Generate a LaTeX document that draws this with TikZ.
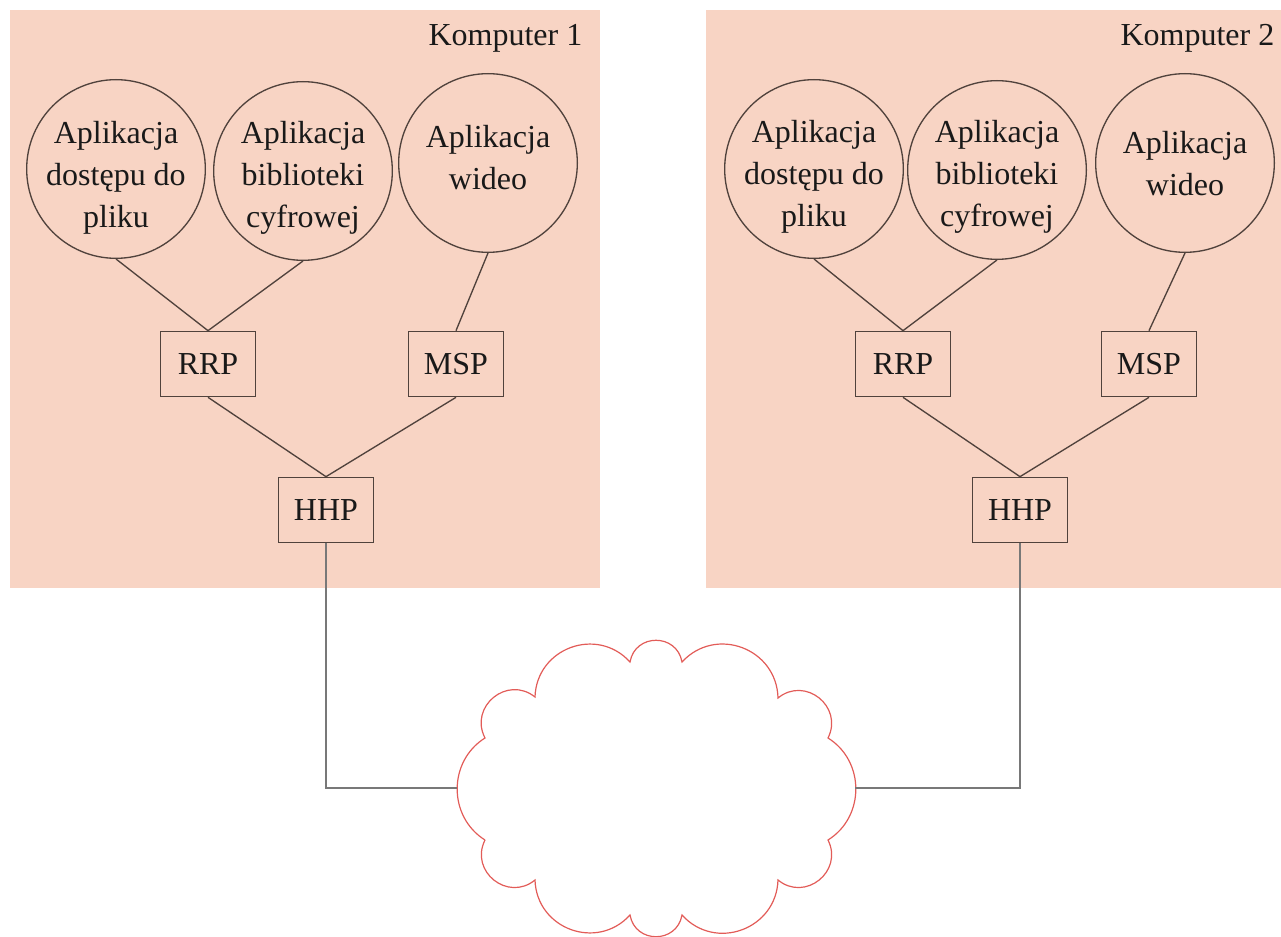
\documentclass[tikz,border=0pt]{standalone}
\usepackage{fontspec}
\setmainfont{Liberation Serif}
\definecolor{panel}{RGB}{248,212,196}
\definecolor{ink}{RGB}{80,66,60}
\definecolor{wire}{RGB}{120,120,120}
\definecolor{cloudred}{RGB}{226,92,88}
\begin{document}
\begin{tikzpicture}[x=0.75pt,y=-0.75pt,
  every node/.style={font=\fontsize{24}{31.5}\selectfont, text=black!90},
  app/.style={draw=ink, line width=1pt, circle, minimum size=134pt, inner sep=0pt},
  apptext/.style={align=center, inner sep=0pt},
  proto/.style={draw=ink, line width=1pt, rectangle, minimum width=71pt, minimum height=49pt, inner sep=0pt},
  link/.style={draw=ink, line width=1pt},
  netlink/.style={draw=wire, line width=1pt},
  cloudline/.style={draw=cloudred, line width=0.9pt}
]
\useasboundingbox (0,0) rectangle (1281,937);
\fill[panel] (10,10) rectangle (600,588);
\fill[panel] (706,10) rectangle (1290,588);

% Komputer 1
\node[anchor=base east] (k1) at (587,46) {Komputer 1};
\node[app] (a1) at (116,169) {};
\node[app] (b1) at (303,171) {};
\node[app] (c1) at (488,163) {};
\node[apptext] (a1t) at (116,178) {Aplikacja\\dostępu do\\pliku};
\node[apptext] (b1t) at (303,178) {Aplikacja\\biblioteki\\cyfrowej};
\node[apptext] (c1t) at (488,158) {Aplikacja\\wideo};
\node[proto] (r1) at (208,364) {RRP};
\node[proto] (m1) at (456,364) {MSP};
\node[proto] (h1) at (326,510) {HHP};

% Komputer 2
\node[anchor=base east] (k2) at (1279,46) {Komputer 2};
\node[app] (a2) at (814,169) {};
\node[app] (b2) at (997,170) {};
\node[app] (c2) at (1185,163) {};
\node[apptext] (a2t) at (814,177) {Aplikacja\\dostępu do\\pliku};
\node[apptext] (b2t) at (997,177) {Aplikacja\\biblioteki\\cyfrowej};
\node[apptext] (c2t) at (1185,164) {Aplikacja\\wideo};
\node[proto] (r2) at (903,364) {RRP};
\node[proto] (m2) at (1149,364) {MSP};
\node[proto] (h2) at (1020,510) {HHP};

% network cloud
\node[minimum width=298.5pt, minimum height=221pt, inner sep=0pt] (net) at (656,788) {};
\path[cloudline] (485,840)
  to[bend left=58, looseness=1.1] (485,738)
  to[bend left=78, looseness=1.4] (535,697)
  to[bend left=68, looseness=1.24] (630,662)
  to[bend left=80, looseness=1.45] (682,662)
  to[bend left=68, looseness=1.24] (778,698)
  to[bend left=78, looseness=1.4] (828,738)
  to[bend left=58, looseness=1.1] (828,840)
  to[bend left=78, looseness=1.4] (778,880)
  to[bend left=68, looseness=1.24] (682,915)
  to[bend left=80, looseness=1.45] (630,915)
  to[bend left=68, looseness=1.24] (535,880)
  to[bend left=78, looseness=1.4] (485,840);

% connectors
\draw[link] (a1.south) -- (r1.north);
\draw[link] (b1.south) -- (r1.north);
\draw[link] (c1.south) -- (m1.north);
\draw[link] (r1.south) -- (h1.north);
\draw[link] (m1.south) -- (h1.north);
\draw[link] (a2.south) -- (r2.north);
\draw[link] (b2.south) -- (r2.north);
\draw[link] (c2.south) -- (m2.north);
\draw[link] (r2.south) -- (h2.north);
\draw[link] (m2.south) -- (h2.north);
\draw[netlink] (h1.south) |- (net.west);
\draw[netlink] (h2.south) |- (net.east);
\end{tikzpicture}
\end{document}
